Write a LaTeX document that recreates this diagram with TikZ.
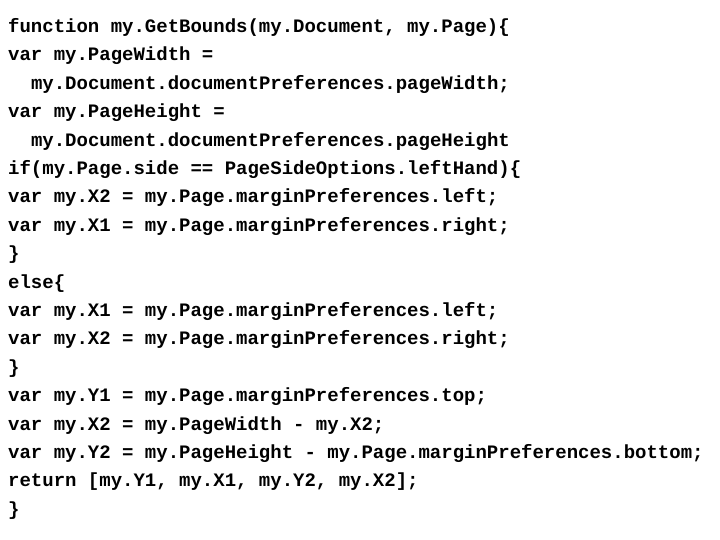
\documentclass[tikz,border=0pt]{standalone}
\usepackage{fontspec}
\setmonofont{Liberation Mono}
\begin{document}
\begin{tikzpicture}[x=1pt,y=1pt,codeline/.style={anchor=base west,inner sep=0pt,font=\ttfamily\bfseries\fontsize{19}{22}\selectfont}]
\useasboundingbox (0,0) rectangle (720,-540);
\foreach \t [count=\i] in {%
{function my.GetBounds(my.Document, my.Page)\{},
{var my.PageWidth =},
{\ \ my.Document.documentPreferences.pageWidth;},
{var my.PageHeight =},
{\ \ my.Document.documentPreferences.pageHeight},
{if(my.Page.side == PageSideOptions.leftHand)\{},
{var my.X2 = my.Page.marginPreferences.left;},
{var my.X1 = my.Page.marginPreferences.right;},
{\}},
{else\{},
{var my.X1 = my.Page.marginPreferences.left;},
{var my.X2 = my.Page.marginPreferences.right;},
{\}},
{var my.Y1 = my.Page.marginPreferences.top;},
{var my.X2 = my.PageWidth - my.X2;},
{var my.Y2 = my.PageHeight - my.Page.marginPreferences.bottom;},
{return [my.Y1, my.X1, my.Y2, my.X2];},
{\}}}
{\node[codeline] (l\i) at (8,{-32.5-28.4*(\i-1)}) {\t};}
\end{tikzpicture}
\end{document}
